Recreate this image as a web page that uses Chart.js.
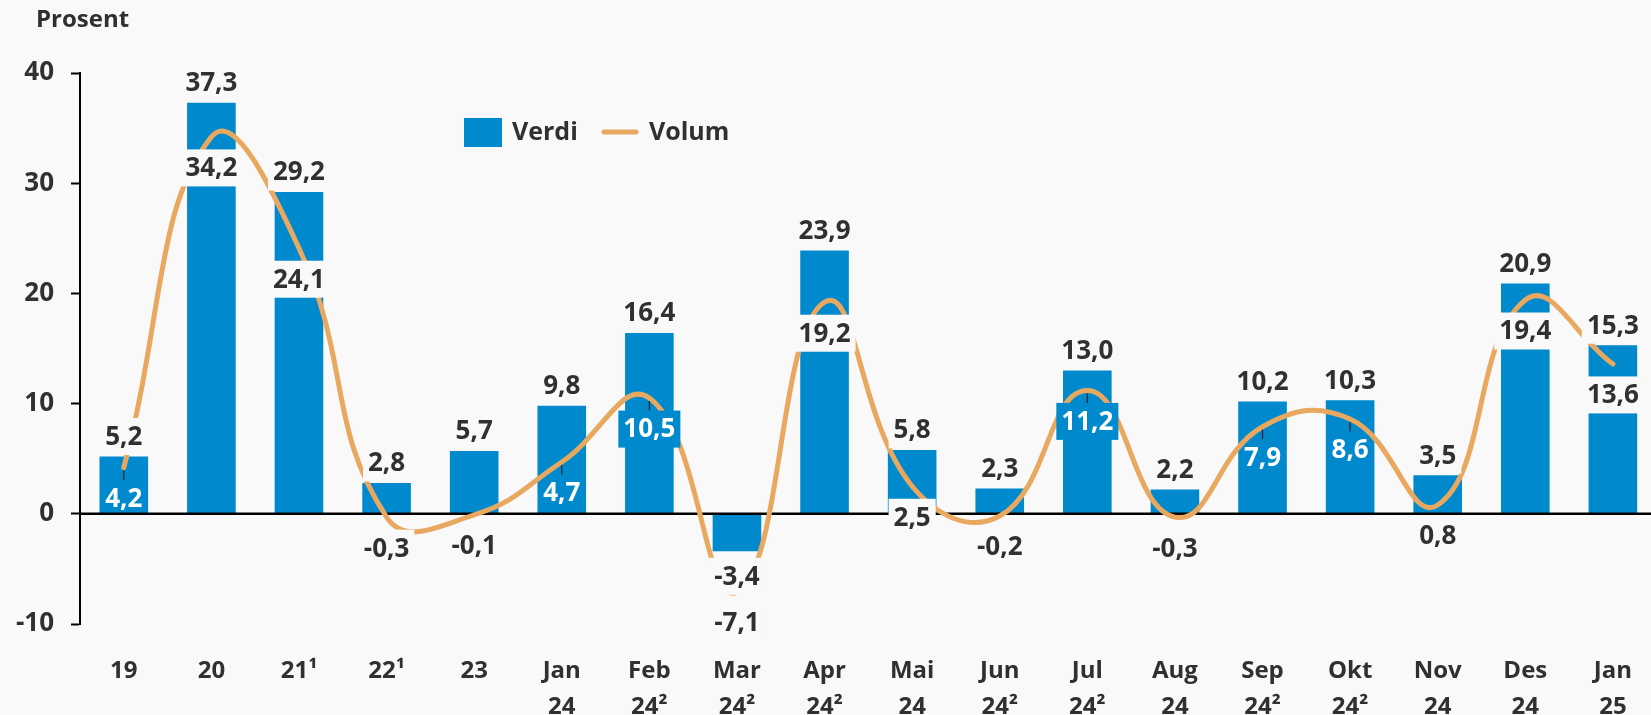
<!DOCTYPE html>
<html>
<head>
<meta charset="utf-8">
<script src="https://cdn.jsdelivr.net/npm/chart.js@4/dist/chart.umd.min.js"></script>
<style>
  html, body { margin: 0; padding: 0; background: #f9f9f9; overflow: hidden; }
  #wrap { position: relative; width: 1661px; height: 715px; }
</style>
</head>
<body>
<div id="wrap"><canvas id="c"></canvas></div>
<script>
// ---------------- data ----------------
const categories = [['19'], ['20'], ['21¹'], ['22¹'], ['23'], ['Jan', '24'], ['Feb', '24²'], ['Mar', '24²'], ['Apr', '24²'], ['Mai', '24'], ['Jun', '24²'], ['Jul', '24²'], ['Aug', '24'], ['Sep', '24²'], ['Okt', '24²'], ['Nov', '24'], ['Des', '24'], ['Jan', '25']];
const verdi = [5.2, 37.3, 29.2, 2.8, 5.7, 9.8, 16.4, -3.4, 23.9, 5.8, 2.3, 13.0, 2.2, 10.2, 10.3, 3.5, 20.9, 15.3];
const volum = [4.2, 34.2, 24.1, -0.3, -0.1, 4.7, 10.5, -7.1, 19.2, 2.5, -0.2, 11.2, -0.3, 7.9, 8.6, 0.8, 19.4, 13.6];
const yTickValues = [-10, 0, 10, 20, 30, 40];
const seriesNames = ['Verdi', 'Volum'];
const axisTitle = 'Prosent';

// ---------------- styles ----------------
const FONT = "'Open Sans', 'DejaVu Sans', sans-serif";
const TEXT = '#303030';
const BG = '#f9f9f9';
const BAR = '#0089CD';
const LINE = '#E8A860';
// label look for the Volum series: 'bg' = page-coloured box + dark text,
// 'blue' = bar-coloured box + white text, 'white' = white text only
const volLabelStyle = ['white', 'bg', 'bg', 'bg', 'bg', 'white', 'blue', 'bg', 'bg', 'bg', 'bg', 'blue', 'bg', 'white', 'white', 'bg', 'bg', 'bg'];

const fmt = v => v.toFixed(1).replace('.', ',');

const zeroLinePlugin = {
  id: 'zeroLine',
  afterDatasetDraw(chart, args) {
    if (args.meta.type !== 'bar') return;
    const y = chart.scales.y.getPixelForValue(0);
    const ctx = chart.ctx;
    ctx.save();
    ctx.strokeStyle = '#000';
    ctx.lineWidth = 2.5;
    ctx.beginPath();
    ctx.moveTo(chart.chartArea.left, y);
    ctx.lineTo(chart.chartArea.right, y);
    ctx.stroke();
    ctx.restore();
  }
};

const labelPlugin = {
  id: 'valueLabels',
  afterDatasetsDraw(chart) {
    const ctx = chart.ctx;
    const barMeta = chart.getDatasetMeta(0);
    const lineMeta = chart.getDatasetMeta(1);
    const BOX_H = 37;
    ctx.save();
    ctx.font = `bold 26px ${FONT}`;
    ctx.textAlign = 'center';
    ctx.textBaseline = 'middle';

    const drawLabel = (txt, x, cy, boxColor, textColor) => {
      const w = ctx.measureText(txt).width + 10;
      if (boxColor) {
        ctx.fillStyle = boxColor;
        ctx.fillRect(x - w / 2, cy - BOX_H / 2, w, BOX_H);
      }
      ctx.fillStyle = textColor;
      ctx.fillText(txt, x, cy + 1);
    };

    // Verdi labels (outside bar end)
    barMeta.data.forEach((el, i) => {
      const v = chart.data.datasets[0].data[i];
      const cy = v >= 0 ? el.y - 20 : el.y + 25;
      drawLabel(fmt(v), el.x, cy, BG, TEXT);
    });

    // Volum labels (below the point)
    lineMeta.data.forEach((pt, i) => {
      const v = chart.data.datasets[1].data[i];
      const st = volLabelStyle[i];
      const cy = pt.y + 31;
      if (st !== 'bg') {
        ctx.strokeStyle = '#222';
        ctx.lineWidth = 1.2;
        ctx.beginPath();
        ctx.moveTo(pt.x, pt.y + 3);
        ctx.lineTo(pt.x, cy - BOX_H / 2);
        ctx.stroke();
      }
      if (st === 'bg') drawLabel(fmt(v), pt.x, cy, BG, TEXT);
      else if (st === 'blue') drawLabel(fmt(v), pt.x, cy, BAR, '#ffffff');
      else drawLabel(fmt(v), pt.x, cy, null, '#ffffff');
    });
    ctx.restore();
  }
};

const legendTitlePlugin = {
  id: 'legendTitle',
  afterDraw(chart) {
    const ctx = chart.ctx;
    ctx.save();
    ctx.fillStyle = TEXT;
    ctx.font = `bold 24px ${FONT}`;
    ctx.textAlign = 'left';
    ctx.textBaseline = 'middle';
    ctx.fillText(axisTitle, 36, 20);

    ctx.font = `bold 25px ${FONT}`;
    ctx.fillStyle = chart.data.datasets[0].backgroundColor;
    ctx.fillRect(464, 118, 38, 29);
    ctx.fillStyle = TEXT;
    ctx.fillText(chart.data.datasets[0].label, 512, 133);
    ctx.strokeStyle = chart.data.datasets[1].borderColor;
    ctx.lineWidth = 5;
    ctx.lineCap = 'round';
    ctx.beginPath();
    ctx.moveTo(604, 132);
    ctx.lineTo(636, 132);
    ctx.stroke();
    ctx.fillStyle = TEXT;
    ctx.fillText(chart.data.datasets[1].label, 649, 133);
    ctx.restore();
  }
};

new Chart(document.getElementById('c'), {
  data: {
    labels: categories,
    datasets: [
      {
        type: 'bar',
        label: seriesNames[0],
        data: verdi,
        backgroundColor: BAR,
        barPercentage: 0.555,
        categoryPercentage: 1.0,
        order: 2
      },
      {
        type: 'line',
        label: seriesNames[1],
        data: volum,
        borderColor: LINE,
        borderWidth: 5,
        borderCapStyle: 'round',
        borderJoinStyle: 'round',
        pointRadius: 0,
        tension: 0.45,
        clip: false,
        order: 1
      }
    ]
  },
  options: {
    responsive: true,
    maintainAspectRatio: false,
    animation: false,
    layout: { padding: { top: 73, left: 0, right: 0, bottom: 0 } },
    plugins: { legend: { display: false }, tooltip: { enabled: false } },
    scales: {
      x: {
        offset: true,
        grid: { display: false, drawTicks: false },
        border: { display: false },
        ticks: {
          color: TEXT,
          font: { family: FONT, size: 24, weight: 'bold', lineHeight: 1.5 },
          padding: 29,
          maxRotation: 0,
          autoSkip: false
        },
        afterFit(s) { s.height = 91; }
      },
      y: {
        min: yTickValues[0],
        max: yTickValues[yTickValues.length - 1],
        afterBuildTicks(s) { s.ticks = yTickValues.map(v => ({ value: v })); },
        ticks: {
          color: TEXT,
          font: { family: FONT, size: 26, weight: 'bold' },
          padding: 17
        },
        grid: { drawOnChartArea: false, drawTicks: true, tickLength: 9, tickColor: '#000', tickWidth: 2 },
        border: { display: true, color: '#000', width: 2 },
        afterFit(s) { s.width = 80; }
      }
    }
  },
  plugins: [zeroLinePlugin, labelPlugin, legendTitlePlugin]
});
</script>
</body>
</html>
